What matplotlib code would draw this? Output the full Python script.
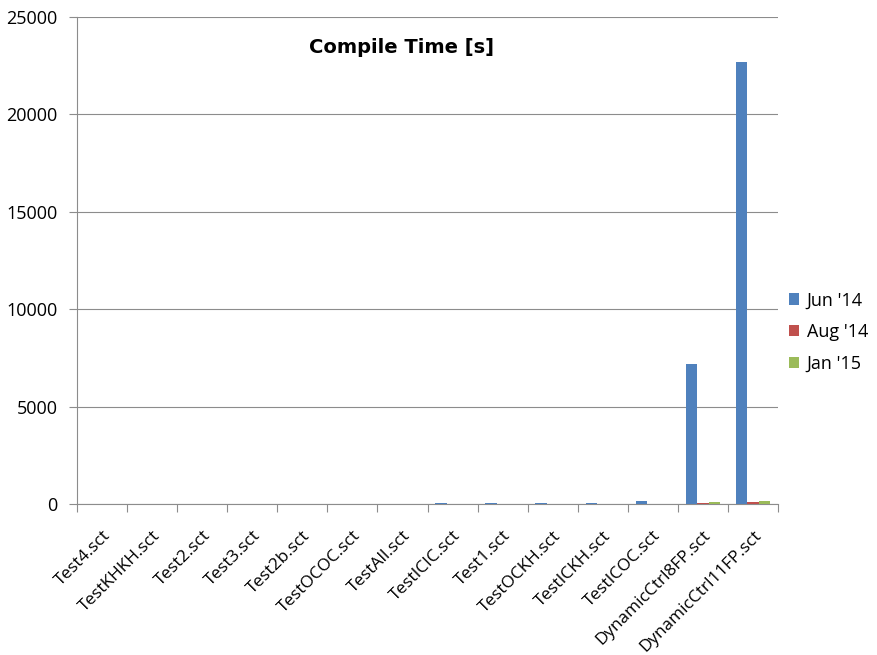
import numpy as np
import matplotlib
matplotlib.use('Agg')
import matplotlib.pyplot as plt

tests = ['Test4.sct', 'TestKHKH.sct', 'Test2.sct', 'Test3.sct', 'Test2b.sct', 'TestOCOC.sct',
         'TestAll.sct', 'TestICIC.sct', 'Test1.sct', 'TestOCKH.sct', 'TestICKH.sct',
         'TestICOC.sct', 'DynamicCtrl8FP.sct', 'DynamicCtrl11FP.sct']
jun14 = [5, 15, 12, 14, 16, 20, 25, 28, 30, 35, 45, 160, 7200, 22700]
aug14 = [1, 2, 2, 2, 2, 3, 3, 3, 4, 4, 5, 8, 60, 110]
jan15 = [1, 2, 2, 2, 2, 3, 3, 3, 4, 4, 5, 9, 110, 180]
series_names = ["Jun '14", "Aug '14", "Jan '15"]
series_colors = ['#4F81BD', '#C0504D', '#9BBB59']

plt.rcParams['font.family'] = ['Open Sans', 'DejaVu Sans']

fig = plt.figure(figsize=(8.78, 6.55), dpi=100)
ax = fig.add_axes([0.0877, 0.2305, 0.7985, 0.7435])

x = np.arange(len(tests))
w = 0.23
for i, (vals, name, col) in enumerate(zip([jun14, aug14, jan15], series_names, series_colors)):
    ax.bar(x + (i - 1) * w, vals, width=w, color=col, label=name, zorder=3)

ax.set_xlim(-0.5, len(tests) - 0.5)
ax.set_ylim(0, 25000)
ax.set_yticks(range(0, 25001, 5000))
ax.yaxis.grid(True, color='#8c8c8c', linewidth=0.8, zorder=0)

# category ticks sit between the groups
ax.set_xticks(np.arange(-0.5, len(tests), 1.0), minor=False)
ax.set_xticklabels([])
ax.set_xticks(x, minor=True)
ax.set_xticklabels(tests, minor=True, rotation=45, ha='right', va='top',
                   rotation_mode='anchor', fontsize=12.4)
ax.tick_params(axis='x', which='minor', length=0, pad=17)
ax.tick_params(axis='x', which='major', length=6, color='#8c8c8c')
ax.tick_params(axis='y', length=6, color='#8c8c8c', labelsize=13, pad=8)

for side in ['top', 'right']:
    ax.spines[side].set_visible(False)
for side in ['left', 'bottom']:
    ax.spines[side].set_color('#8c8c8c')

ax.text(0.463, 0.938, 'Compile Time [s]', transform=ax.transAxes, ha='center', va='center',
        fontsize=14, fontweight='bold', family='DejaVu Sans')

ax.legend(loc='center left', bbox_to_anchor=(1.015, 0.353), frameon=False, fontsize=13,
          handlelength=0.6, handleheight=0.6, handletextpad=0.4, labelspacing=0.75,
          borderpad=0, borderaxespad=0)

fig.savefig('out.png', dpi=100)
